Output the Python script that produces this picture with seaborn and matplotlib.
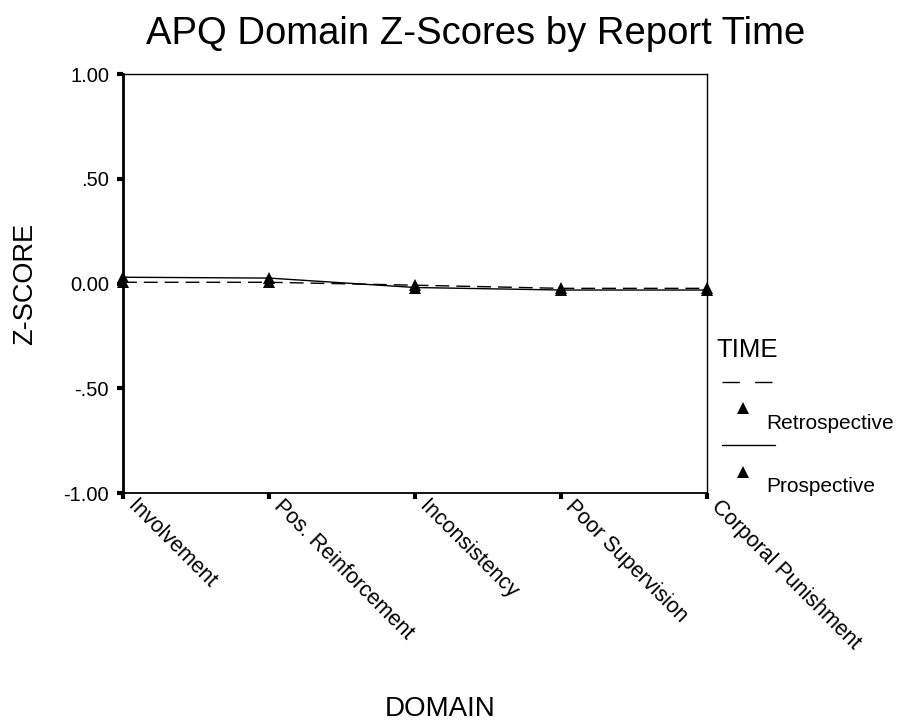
import matplotlib
matplotlib.use("Agg")
import matplotlib.pyplot as plt
import seaborn as sns
import pandas as pd
from matplotlib.lines import Line2D
from matplotlib.transforms import ScaledTranslation, blended_transform_factory

domains = ["Involvement", "Pos. Reinforcement", "Inconsistency", "Poor Supervision", "Corporal Punishment"]
retrospective = [0.006, 0.006, -0.008, -0.023, -0.023]
prospective = [0.030, 0.026, -0.019, -0.031, -0.031]
yticks = [-1.0, -0.5, 0.0, 0.5, 1.0]
ytick_labels = ["-1.00", "-.50", "0.00", ".50", "1.00"]

df = pd.DataFrame({
    "DOMAIN": domains * 2,
    "Z": retrospective + prospective,
    "TIME": ["Retrospective"] * len(domains) + ["Prospective"] * len(domains),
})
df["pos"] = list(range(len(domains))) * 2

sns.set_theme(style="white")
plt.rcParams["font.family"] = ["Liberation Sans", "DejaVu Sans"]
plt.rcParams["text.color"] = "black"
plt.rcParams["axes.labelcolor"] = "black"
plt.rcParams["xtick.color"] = "black"
plt.rcParams["ytick.color"] = "black"

fig = plt.figure(figsize=(9.01, 7.23), dpi=100)
ax = fig.add_axes([0.1365, 0.3181, 0.6482, 0.5795])

sns.lineplot(data=df, x="pos", y="Z", style="TIME",
             style_order=["Retrospective", "Prospective"],
             dashes={"Retrospective": (10, 5), "Prospective": ""},
             markers={"Retrospective": "^", "Prospective": "^"},
             color="black", linewidth=1.0, markersize=9, markeredgewidth=0,
             legend=False, ax=ax)
for ln in ax.lines:
    ln.set_clip_on(False)

ax.set_xlim(0, len(domains) - 1)
ax.set_ylim(-1.0, 1.0)
ax.set_xticks(range(len(domains)))
ax.set_xticklabels([])
trans = blended_transform_factory(ax.transData, ax.transAxes) + \
    ScaledTranslation(15 / 100, -3 / 100, fig.dpi_scale_trans)
for i, name in enumerate(domains):
    ax.text(i, 0, name, transform=trans, rotation=-45, rotation_mode="anchor",
            ha="left", va="top", fontsize=15.5, clip_on=False)
ax.set_yticks(yticks)
ax.set_yticklabels(ytick_labels, fontsize=14.5)
ax.tick_params(axis="both", which="both", direction="out", length=4, width=3,
               color="black", pad=6, bottom=True, left=True)
for s in ax.spines.values():
    s.set_visible(True)
    s.set_color("black")
    s.set_linewidth(1.0)
ax.spines["left"].set_linewidth(2.0)
ax.spines["bottom"].set_linewidth(1.3)

ax.set_xlabel("")
ax.set_ylabel("")
fig.text(440 / 901, 1 - 709 / 723, "DOMAIN", fontsize=20, ha="center", va="center")
fig.text(25 / 901, 1 - 283.5 / 723, "Z-SCORE", fontsize=19.5, ha="center", va="center",
         rotation=90)
fig.text(476 / 901, 1 - 44 / 723, "APQ Domain Z-Scores by Report Time", fontsize=27.5,
         ha="center", va="baseline")
ax.grid(False)

# Legend drawn in SPSS style
fig.text(716 / 901, 1 - 357 / 723, "TIME", fontsize=18.5, va="baseline", ha="left")
fig.add_artist(Line2D([722 / 901, 773 / 901], [1 - 382 / 723] * 2, color="black",
                      linewidth=1.0, dashes=(12.5, 11)))
fig.add_artist(Line2D([743 / 901], [1 - 408 / 723], marker="^", color="black",
                      markersize=9, markeredgewidth=0, linestyle="none"))
fig.text(766 / 901, 1 - 429 / 723, "Retrospective", fontsize=15, va="baseline", ha="left")
fig.add_artist(Line2D([722 / 901, 775 / 901], [1 - 445 / 723] * 2, color="black",
                      linewidth=1.0))
fig.add_artist(Line2D([743 / 901], [1 - 472 / 723], marker="^", color="black",
                      markersize=9, markeredgewidth=0, linestyle="none"))
fig.text(766 / 901, 1 - 492 / 723, "Prospective", fontsize=15, va="baseline", ha="left")

fig.savefig("out.png", dpi=100, facecolor="white")
